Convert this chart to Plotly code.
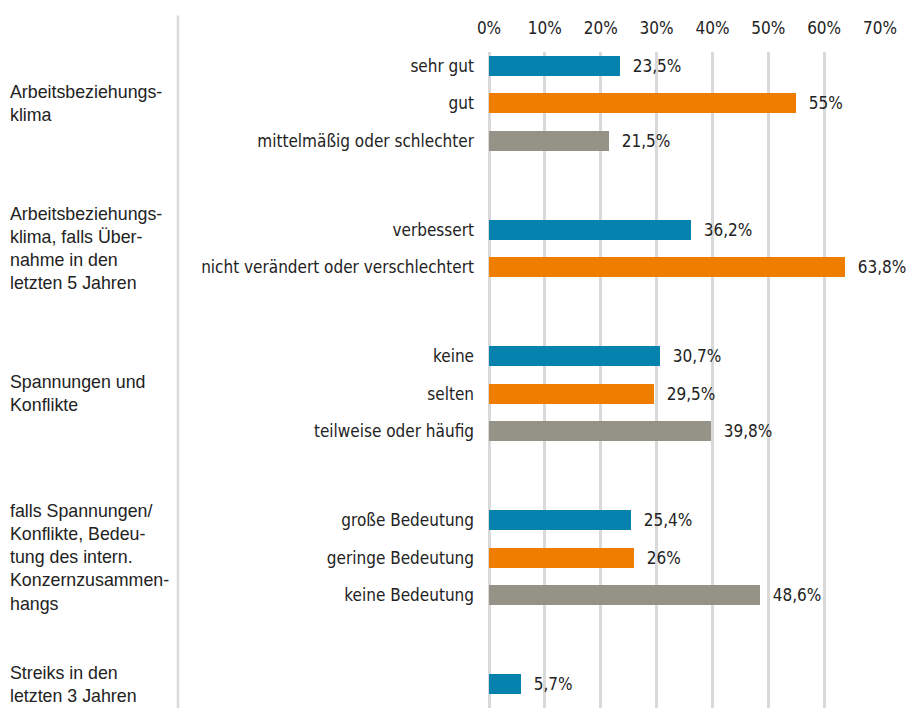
import plotly.graph_objects as go

# Gruppen, Kategorien und Werte (in %)
groups = [
    "Arbeitsbeziehungs-<br>klima",
    "Arbeitsbeziehungs-<br>klima, falls Über-<br>nahme in den<br>letzten 5 Jahren",
    "Spannungen und<br>Konflikte",
    "falls Spannungen/<br>Konflikte, Bedeu-<br>tung des intern.<br>Konzernzusammen-<br>hangs",
    "Streiks in den<br>letzten 3 Jahren",
]
categories = [
    ["sehr gut", "gut", "mittelmäßig oder schlechter"],
    ["verbessert", "nicht verändert oder verschlechtert"],
    ["keine", "selten", "teilweise oder häufig"],
    ["große Bedeutung", "geringe Bedeutung", "keine Bedeutung"],
    [""],
]
values = [
    [23.5, 55, 21.5],
    [36.2, 63.8],
    [30.7, 29.5, 39.8],
    [25.4, 26, 48.6],
    [5.7],
]
colors = ["#0583ae", "#ef7d00", "#959287"]
x_ticks = [0, 10, 20, 30, 40, 50, 60, 70]

GAP = 2.37  # Abstand zwischen Gruppen in Zeilen
NARROW = "DejaVu Sans Condensed, Roboto Condensed, Liberation Sans Narrow, Roboto"

ys, labels, xs, cols, texts, centers = [], [], [], [], [], []
pos = 0.0
for cats, vals in zip(categories, values):
    start = pos
    for i, (c, v) in enumerate(zip(cats, vals)):
        ys.append(pos)
        labels.append(c)
        xs.append(v)
        cols.append(colors[i])
        texts.append("\u00a0\u00a0" + f"{v:g}".replace(".", ",") + "%")
        pos += 1
    centers.append((start + pos - 1) / 2)
    pos += GAP - 1

fig = go.Figure(go.Bar(
    x=xs, y=ys, orientation="h",
    marker=dict(color=cols, line=dict(width=0)),
    width=0.53,
    text=texts, textposition="outside", cliponaxis=False,
    textfont=dict(family=NARROW, size=17, color="#222"),
    hoverinfo="skip",
))

for g, c in zip(groups, centers):
    fig.add_annotation(
        text=g, xref="paper", yref="y", x=0, y=c,
        xanchor="left", yanchor="middle", align="left", showarrow=False,
        font=dict(family="Liberation Sans", size=17.8, color="#222"),
    )

fig.add_shape(type="line", xref="paper", yref="paper",
              x0=170 / 921, x1=170 / 921, y0=-0.02, y1=1.055,
              line=dict(color="#d9d9d9", width=2.5))

fig.update_layout(
    width=921, height=708,
    margin=dict(l=0, r=0, t=44, b=0),
    plot_bgcolor="white", paper_bgcolor="white",
    showlegend=False, bargap=0,
    font=dict(family=NARROW, size=17, color="#222"),
    xaxis=dict(
        domain=[481 / 921, 872 / 921], range=[0, 70], side="top",
        tickvals=x_ticks, ticktext=[f"{t}%" for t in x_ticks],
        showgrid=True, gridcolor="#d9d9d9", gridwidth=2.5,
        zeroline=True, zerolinecolor="#d9d9d9", zerolinewidth=2.5,
        showline=False, ticks="", automargin=False,
        ticklabelstandoff=14, tickfont=dict(size=17),
    ),
    yaxis=dict(
        range=[17.33, -0.37], tickvals=ys, ticktext=labels,
        showgrid=False, zeroline=False, showline=False, ticks="",
        ticklabelstandoff=14, automargin=False,
        tickfont=dict(size=17),
    ),
)

fig.write_html("out.html")
